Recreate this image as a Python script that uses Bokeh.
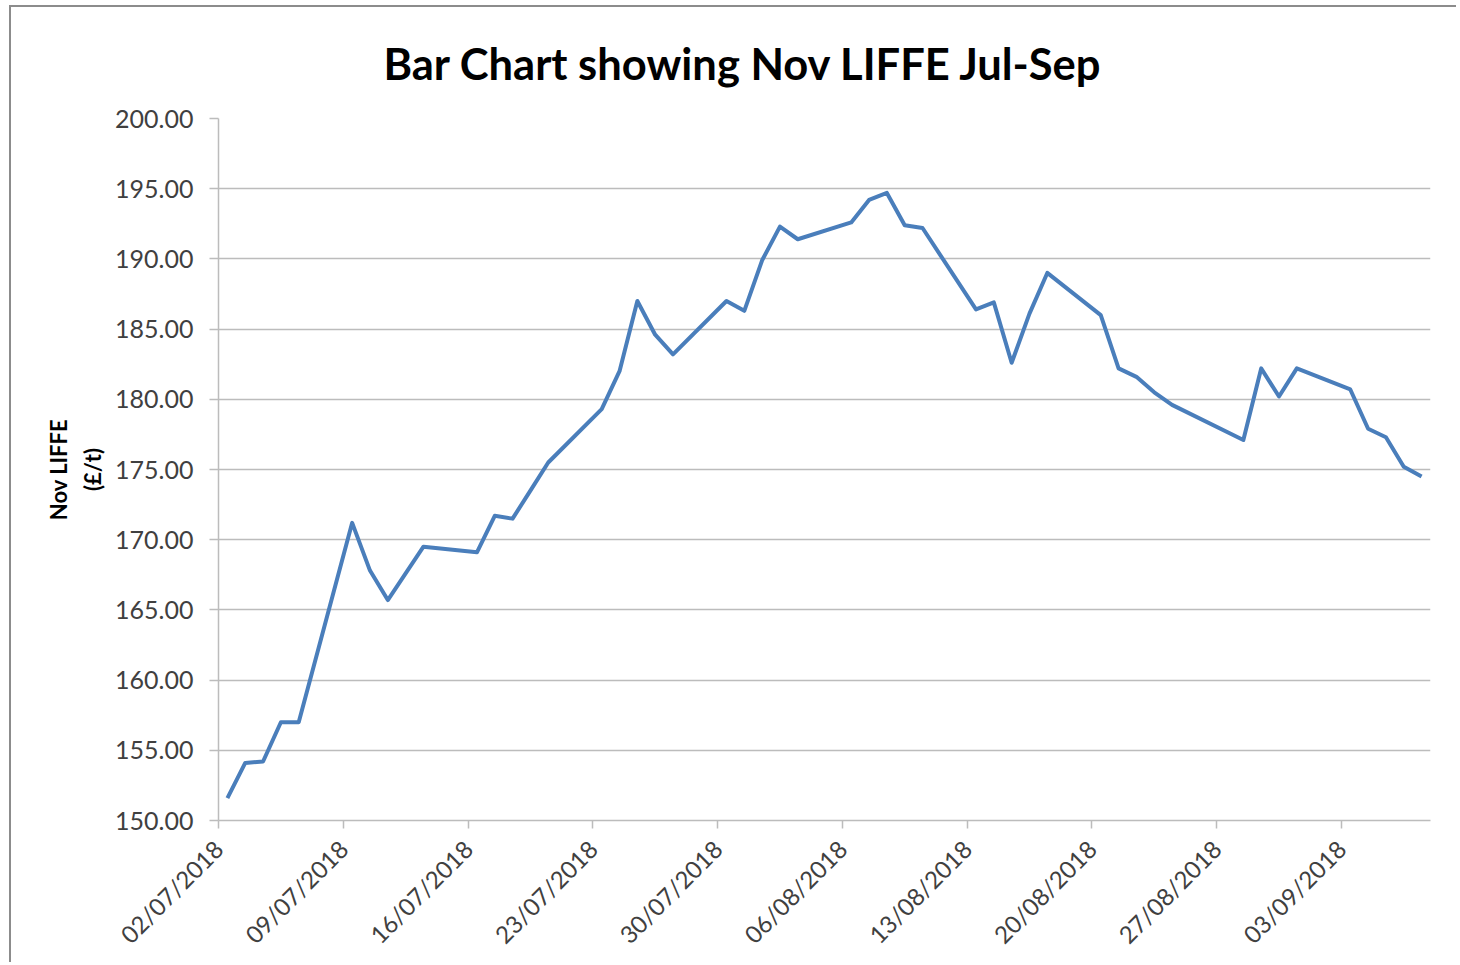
import math
from datetime import datetime, timedelta

from bokeh.plotting import figure
from bokeh.models import (FixedTicker, DatetimeTickFormatter, Range1d,
                          NumeralTickFormatter, ColumnDataSource)
from bokeh.embed import file_html
from bokeh.resources import INLINE

# ---------------- data ----------------
trade_dates = [
    "02/07/2018", "03/07/2018", "04/07/2018", "05/07/2018", "06/07/2018",
    "09/07/2018", "10/07/2018", "11/07/2018", "12/07/2018", "13/07/2018",
    "16/07/2018", "17/07/2018", "18/07/2018", "19/07/2018", "20/07/2018",
    "23/07/2018", "24/07/2018", "25/07/2018", "26/07/2018", "27/07/2018",
    "30/07/2018", "31/07/2018", "01/08/2018", "02/08/2018", "03/08/2018",
    "06/08/2018", "07/08/2018", "08/08/2018", "09/08/2018", "10/08/2018",
    "13/08/2018", "14/08/2018", "15/08/2018", "16/08/2018", "17/08/2018",
    "20/08/2018", "21/08/2018", "22/08/2018", "23/08/2018", "24/08/2018",
    "28/08/2018", "29/08/2018", "30/08/2018", "31/08/2018",
    "03/09/2018", "04/09/2018", "05/09/2018", "06/09/2018", "07/09/2018",
]
nov_liffe = [
    151.6, 154.1, 154.2, 157.0, 157.0,
    171.2, 167.8, 165.7, 167.6, 169.5,
    169.1, 171.7, 171.5, 173.5, 175.5,
    179.3, 182.0, 187.0, 184.6, 183.2,
    187.0, 186.3, 189.9, 192.3, 191.4,
    192.6, 194.2, 194.7, 192.4, 192.2,
    186.4, 186.9, 182.6, 186.1, 189.0,
    186.0, 182.2, 181.6, 180.5, 179.6,
    177.1, 182.2, 180.2, 182.2,
    180.7, 177.9, 177.3, 175.2, 174.5,
]
tick_dates = ["02/07/2018", "09/07/2018", "16/07/2018", "23/07/2018",
              "30/07/2018", "06/08/2018", "13/08/2018", "20/08/2018",
              "27/08/2018", "03/09/2018"]
axis_start = "02/07/2018"
axis_end = "08/09/2018"
y_ticks = [150, 155, 160, 165, 170, 175, 180, 185, 190, 195, 200]
title_text = "Bar Chart showing Nov LIFFE Jul-Sep"
y_label = "Nov LIFFE\n(£/t)"


def parse(s):
    return datetime.strptime(s, "%d/%m/%Y")


def to_ms(dt):
    return (dt - datetime(1970, 1, 1)).total_seconds() * 1000.0


xs = [parse(d) + timedelta(hours=12) for d in trade_dates]
source = ColumnDataSource(data=dict(x=xs, y=nov_liffe))

FONT = "Lato"
GRID = "#bcbcbc"

p = figure(width=1447, height=957, x_axis_type="datetime",
           x_range=Range1d(parse(axis_start), parse(axis_end)),
           y_range=Range1d(min(y_ticks), max(y_ticks)),
           output_backend="svg", toolbar_location=None,
           min_border_left=207, min_border_right=28,
           min_border_top=111, min_border_bottom=144)

p.styles = {"border-left": "2px solid #8c8c8c", "border-top": "2px solid #8c8c8c",
            "margin-left": "9px", "margin-top": "5px"}

p.line("x", "y", source=source, line_color="#4a7ebb", line_width=4,
       line_join="round")

# title
p.title.text = title_text
p.title.text_font = FONT
p.title.text_font_style = "bold"
p.title.text_font_size = "43.5px"
p.title.text_color = "#000000"
p.title.align = "left"
p.title.offset = 165
p.title.vertical_align = "top"
p.title.standoff = 56

# axes
p.outline_line_color = None
p.xgrid.visible = False
p.ygrid.grid_line_color = GRID
p.ygrid.grid_line_width = 1.5

xa = p.xaxis[0]
xa.ticker = FixedTicker(ticks=[to_ms(parse(t)) for t in tick_dates])
fmt = "%d/%m/%Y"
xa.formatter = DatetimeTickFormatter(microseconds=fmt, milliseconds=fmt,
                                     seconds=fmt, minsec=fmt, minutes=fmt,
                                     hourmin=fmt, hours=fmt, days=fmt,
                                     months=fmt, years=fmt)
xa.major_label_orientation = math.pi / 4
xa.major_label_text_font = FONT
xa.major_label_text_font_size = "24px"
xa.major_label_text_color = "#404040"
xa.axis_line_color = GRID
xa.axis_line_width = 1.5
xa.major_tick_line_color = GRID
xa.major_tick_line_width = 1.5
xa.major_tick_in = 0
xa.major_tick_out = 8
xa.minor_tick_line_color = None
xa.major_label_standoff = 16

ya = p.yaxis[0]
ya.ticker = FixedTicker(ticks=y_ticks)
ya.formatter = NumeralTickFormatter(format="0.00")
ya.major_label_text_font = FONT
ya.major_label_text_font_size = "25px"
ya.major_label_text_color = "#404040"
ya.axis_line_color = GRID
ya.axis_line_width = 1.5
ya.major_tick_line_color = GRID
ya.major_tick_line_width = 1.5
ya.major_tick_in = 0
ya.major_tick_out = 9
ya.minor_tick_line_color = None
ya.major_label_standoff = 16
ya.axis_label = y_label
ya.axis_label_text_font = FONT
ya.axis_label_text_font_style = "bold"
ya.axis_label_text_font_size = "22px"
ya.axis_label_text_color = "#000000"
ya.axis_label_text_line_height = 1.25
ya.axis_label_standoff = 6

open("out.html", "w").write(file_html(p, INLINE))
